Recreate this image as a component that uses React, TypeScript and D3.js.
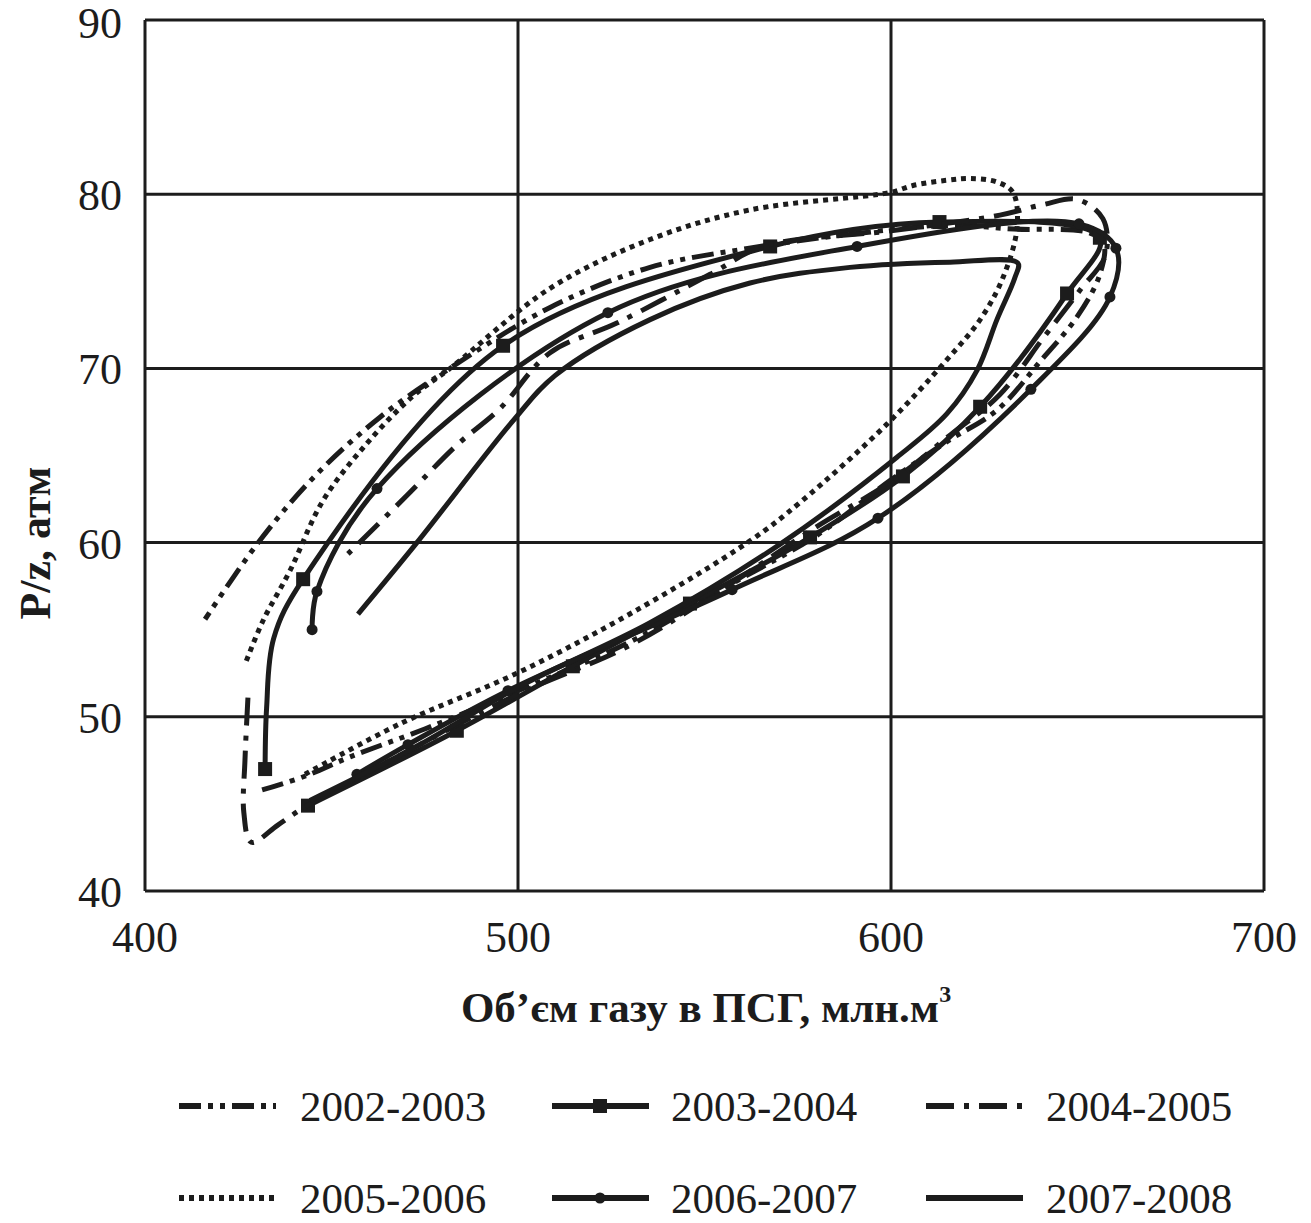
import React from "react";
import * as d3 from "d3";

type Pt = [number, number, number?];

// x: volume of gas in storage (mln m3), y: P/z (atm). Each season is a loop:
// injection along the lower branch, withdrawal back along the upper one.
const s0203: Pt[] = [
  [431.4, 45.8], [443, 46.6], [455, 47.7], [475, 49.3], [500, 51.5], [530, 54.3],
  [557, 57.6], [580, 60.4], [600, 63.6], [615, 65.8], [628.4, 67.6], [640, 70.4],
  [650, 73.0], [656, 75.4], [657, 77.2], [653, 77.8], [633, 78.0], [615.8, 78.2],
  [589, 77.7], [562, 76.9], [535.4, 75.8], [508.6, 73.5], [481, 69.9], [463, 67.2],
  [445, 63.7], [430, 59.9], [416.1, 55.6],
];
const s0304: Pt[] = [
  [443.7, 44.9, 1], [483.6, 49.2, 1], [514.7, 52.9, 1], [546.1, 56.5, 1], [578.3, 60.3, 1],
  [603.2, 63.8, 1], [623.9, 67.8, 1], [647.2, 74.3, 1], [656, 77.5, 1], [613, 78.4, 1],
  [567.6, 77.0, 1], [496, 71.3, 1], [442.4, 57.9, 1], [434.5, 54.5], [432.6, 50.5],
  [432.2, 47, 1],
];
const s0405: Pt[] = [
  [427.6, 51.1], [426.8, 47.5], [426.5, 44.5], [428.5, 42.8], [435.7, 43.8], [443.4, 44.9],
  [468.4, 47.8], [500, 51.3], [530, 54.1], [556.8, 57.6], [580, 60.9], [600, 63.5],
  [616, 66.2], [629.2, 68.5], [641, 71.8], [650.7, 74.5], [657.5, 76.5], [656.8, 78.6],
  [649.9, 79.7], [640.7, 79.4], [629.2, 78.8], [600, 77.9], [565.7, 77.0], [551.5, 75.4],
  [526.5, 72.6], [508.6, 70.9], [495.2, 67.7], [483.6, 65.6], [470.2, 62.7], [454.4, 59.35],
];
const s0506: Pt[] = [
  [442.9, 46.7], [468.4, 49.6], [499.7, 52.5], [530.8, 56.0], [562.2, 60.1], [575.6, 62.3],
  [598.9, 66.8], [615, 70.5], [623.9, 72.8], [630, 75.2], [633.8, 78.1], [632.7, 80.1],
  [628.4, 80.7], [621.2, 80.9], [615, 80.8], [605.9, 80.5], [599.7, 80.1], [562.2, 79.1],
  [535.4, 77.4], [508.6, 74.6], [481.8, 70.0], [471.8, 68.4], [459.5, 65.7], [447.7, 62.4],
  [438.9, 58.4], [431.6, 55.5], [426.8, 53.0],
];
const s0607: Pt[] = [
  [456.8, 46.7, 1], [470.5, 48.4, 1], [497.3, 51.5, 1], [557.4, 57.3, 1], [596.5, 61.4, 1],
  [637.5, 68.8, 1], [658.7, 74.1, 1], [660.3, 76.9, 1], [650.4, 78.3, 1], [590.9, 77.0, 1],
  [524.1, 73.2, 1], [462.2, 63.1, 1], [446.1, 57.2, 1], [444.8, 55.0, 1],
];
const s0708: Pt[] = [
  [444.2, 45.2], [473.7, 48.4], [500, 51.7], [535.4, 55.4], [570.2, 59.9], [601.6, 64.9],
  [615, 67.4], [623.1, 69.9], [628.4, 72.8], [633.2, 75.2], [634, 76.05], [615.8, 76.1],
  [589, 75.8], [562.2, 74.9], [535.4, 72.8], [510, 69.6], [498.7, 67.0], [472.9, 60.0],
  [457.1, 55.9],
];

const seasons = ["2002-2003", "2003-2004", "2004-2005", "2005-2006", "2006-2007", "2007-2008"];
const seriesData = [s0203, s0304, s0405, s0506, s0607, s0708];
const xTicks = [400, 500, 600, 700];
const yTicks = [40, 50, 60, 70, 80, 90];

const INK = "#1c1c1c";
const dashes = ["22,7,5,7,5,7", "", "28,10,5,10", "5,5", "", ""];
const markers = ["", "square", "", "", "circle", ""];

const x = d3.scaleLinear().domain([400, 700]).range([145, 1264]);
const y = d3.scaleLinear().domain([40, 90]).range([891, 20]);

const line = d3
  .line<Pt>()
  .x((d) => x(d[0]))
  .y((d) => y(d[1]))
  .curve(d3.curveCatmullRom.alpha(0.5));

const Marker = ({ kind, cx, cy }: { kind: string; cx: number; cy: number }) =>
  kind === "square" ? (
    <rect x={cx - 7} y={cy - 7} width={14} height={14} fill={INK} />
  ) : kind === "circle" ? (
    <circle cx={cx} cy={cy} r={5.5} fill={INK} />
  ) : null;

const legendCols = [179, 552, 926];
const legendText = [300, 671, 1046];
const legendRows = [1106, 1198];

export default function App() {
  const font = "'Liberation Serif', 'Times New Roman', serif";
  return (
    <svg
      width={1311}
      height={1223}
      style={{ position: "absolute", left: 0, top: 0, background: "#fff" }}
      fontFamily={font}
    >
      <rect width={1311} height={1223} fill="#fff" />
      {/* grid */}
      {xTicks.map((t) => (
        <line key={"gx" + t} x1={x(t)} x2={x(t)} y1={y(40)} y2={y(90)} stroke={INK} strokeWidth={3} />
      ))}
      {yTicks.map((t) => (
        <line key={"gy" + t} x1={x(400)} x2={x(700)} y1={y(t)} y2={y(t)} stroke={INK} strokeWidth={3} />
      ))}
      {/* tick labels */}
      {xTicks.map((t) => (
        <text key={"tx" + t} x={x(t)} y={952} textAnchor="middle" fontSize={44} fill={INK}>
          {t}
        </text>
      ))}
      {yTicks.map((t) => (
        <text key={"ty" + t} x={122} y={Math.max(y(t) + 16, 38)} textAnchor="end" fontSize={44} fill={INK}>
          {t}
        </text>
      ))}
      {/* series */}
      {seriesData.map((pts, i) => (
        <g key={seasons[i]}>
          <path
            d={line(pts) || ""}
            fill="none"
            stroke={INK}
            strokeWidth={5}
            strokeDasharray={dashes[i] || undefined}
            strokeLinejoin="round"
          />
          {markers[i] &&
            pts.filter((p) => p[2]).map((p, j) => <Marker key={j} kind={markers[i]} cx={x(p[0])} cy={y(p[1])} />)}
        </g>
      ))}
      {/* axis titles */}
      <text x={706} y={1022} textAnchor="middle" fontSize={43} fontWeight="bold" fill={INK}>
        Об’єм газу в ПСГ, млн.м<tspan fontSize={24} dy={-20}>3</tspan>
      </text>
      <text
        transform="translate(50,543) rotate(-90)"
        textAnchor="middle"
        fontSize={44}
        fontWeight="bold"
        fill={INK}
      >
        P/z, атм
      </text>
      {/* legend */}
      {seasons.map((s, i) => {
        const col = i % 3;
        const row = Math.floor(i / 3);
        const x0 = legendCols[col];
        const ly = legendRows[row];
        return (
          <g key={"lg" + s}>
            <line
              x1={x0}
              x2={x0 + 97}
              y1={ly}
              y2={ly}
              stroke={INK}
              strokeWidth={6}
              strokeDasharray={dashes[i] || undefined}
            />
            {markers[i] && <Marker kind={markers[i]} cx={x0 + 48} cy={ly} />}
            <text x={legendText[col]} y={ly + 15} fontSize={43} fill={INK}>
              {s}
            </text>
          </g>
        );
      })}
    </svg>
  );
}
